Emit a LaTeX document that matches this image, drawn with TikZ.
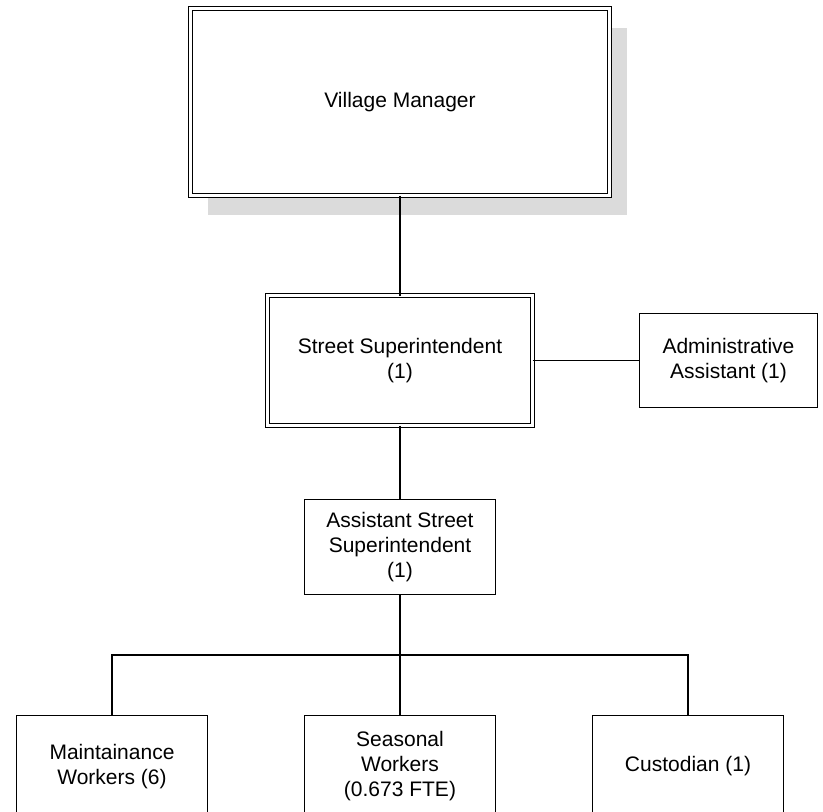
\documentclass[tikz,border=0pt]{standalone}
\usepackage{fontspec}
\setmainfont{Liberation Sans}
\usetikzlibrary{calc}
\usetikzlibrary{positioning}
\usetikzlibrary{shadows}

\begin{document}
\begin{tikzpicture}[x=1pt, y=1pt,
		font=\fontsize{21}{25}\selectfont,
		every node/.style={align=center, outer sep=0pt, inner sep=0pt, fill=white},
		box/.style={draw, line width=1.5pt, minimum width=191pt, minimum height=95pt},
		headbox/.style={draw, line width=1.3pt, double, double distance=3pt},
		link/.style={line width=1.5pt}]
		\useasboundingbox[fill=white] (0,0) rectangle (823,-812);
		\node (VM) [headbox, minimum width=419pt, minimum height=187pt,
			drop shadow={shadow xshift=17pt, shadow yshift=-19pt, fill=black!14, opacity=1}]
			at (400,-102) {Village Manager};
		\node (SS) [headbox, minimum width=265pt, minimum height=130pt, below=100pt of VM]
			{Street Superintendent\\(1)};
		\node (AA) [box, minimum width=178pt, minimum height=94pt, right=107pt of SS]
			{Administrative\\Assistant (1)};
		\node (ASS) [box, below=74pt of SS] {Assistant Street\\Superintendent\\(1)};
		\node (SW) [box, minimum height=102pt, below=121pt of ASS] {Seasonal\\Workers\\(0.673 FTE)};
		\node (MW) [box, minimum height=102pt, left=97pt of SW] {Maintainance\\Workers (6)};
		\node (CU) [box, minimum height=102pt, right=97pt of SW] {Custodian (1)};
		\coordinate (bus) at ($(ASS.south)!.5!(SW.north)$);
		\draw[link] (VM) -- (SS);
		\draw[link] (SS) -- (AA);
		\draw[link] (SS) -- (ASS);
		\draw[link] (ASS) -- (SW);
		\draw[link] (MW.north) -- (MW.north |- bus) -- (CU.north |- bus) -- (CU.north);
	\end{tikzpicture}
\end{document}
